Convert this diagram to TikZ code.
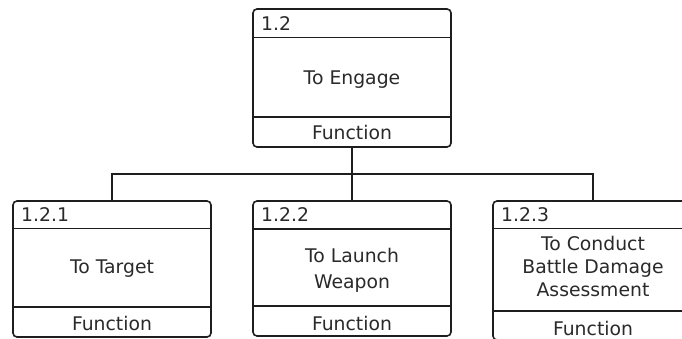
\documentclass[tikz,border=0pt]{standalone}
\usepackage{fontspec}
\setmainfont{DejaVu Sans}
\definecolor{linec}{HTML}{1E1E1E}
\definecolor{txtc}{HTML}{2A2A2A}
\begin{document}
\begin{tikzpicture}[x=1pt,y=-1pt,
  frame/.style={draw=linec, line width=1.6pt, rounded corners=4pt,
    inner sep=0pt, outer sep=0pt, fill=white},
  lbl/.style={font=\fontsize{18.8}{26.7}\selectfont, text=txtc, inner sep=0pt,
    align=center, text height=13.7pt, text depth=0pt},
  tight/.style={font=\fontsize{18.8}{23.3}\selectfont},
  idlbl/.style={font=\fontsize{18.8}{22}\selectfont, text=txtc, inner sep=0pt,
    anchor=base west},
  wire/.style={draw=linec, line width=1.6pt}]
\useasboundingbox (0,0) rectangle (682,339);
\fill[white] (0,0) rectangle (682,339);
\clip (0,0) rectangle (682,339);

% parent function
\node[frame, minimum width=198pt, minimum height=138pt] (top) at (352,78) {};
\draw[wire] ([yshift=-28.5pt]top.north west) -- ([yshift=-28.5pt]top.north east);
\draw[wire] ([yshift=30pt]top.south west) -- ([yshift=30pt]top.south east);
\node[idlbl] (topid) at (261,31) {1.2};
\node[lbl] (toptxt) at (352,77.5) {To Engage};
\node[lbl] (topfn) at (352,133) {Function};

% child functions (multi-line labels are placed by their last line)
\node[frame, minimum width=198pt, minimum height=136pt] (c1) at (112,269) {};
\draw[wire] ([yshift=-27.5pt]c1.north west) -- ([yshift=-27.5pt]c1.north east);
\draw[wire] ([yshift=30pt]c1.south west) -- ([yshift=30pt]c1.south east);
\node[idlbl] (c1id) at (21,221) {1.2.1};
\node[lbl] (c1txt) at (112,267) {To Target};
\node[lbl] (c1fn) at (112,323.5) {Function};

\node[frame, minimum width=198pt, minimum height=135pt] (c2) at (352,268.5) {};
\draw[wire] ([yshift=-28pt]c2.north west) -- ([yshift=-28pt]c2.north east);
\draw[wire] ([yshift=30pt]c2.south west) -- ([yshift=30pt]c2.south east);
\node[idlbl] (c2id) at (261,221) {1.2.2};
\node[lbl] (c2txt) at (352,282) {To Launch\\Weapon};
\node[lbl] (c2fn) at (352,323.5) {Function};

\node[frame, minimum width=200pt, minimum height=139pt] (c3) at (593,270.5) {};
\draw[wire] ([yshift=-27.5pt]c3.north west) -- ([yshift=-27.5pt]c3.north east);
\draw[wire] ([yshift=29pt]c3.south west) -- ([yshift=29pt]c3.south east);
\node[idlbl] (c3id) at (501,221) {1.2.3};
\node[lbl, tight] (c3txt) at (593,290) {To Conduct\\Battle Damage\\Assessment};
\node[lbl] (c3fn) at (593,328.5) {Function};

% tree connectors
\coordinate (jn) at (352,174);
\draw[wire] (top.south) -- (jn);
\draw[wire] (c1.north) |- (jn) -| (c3.north);
\draw[wire] (jn) -- (c2.north);
\end{tikzpicture}
\end{document}
